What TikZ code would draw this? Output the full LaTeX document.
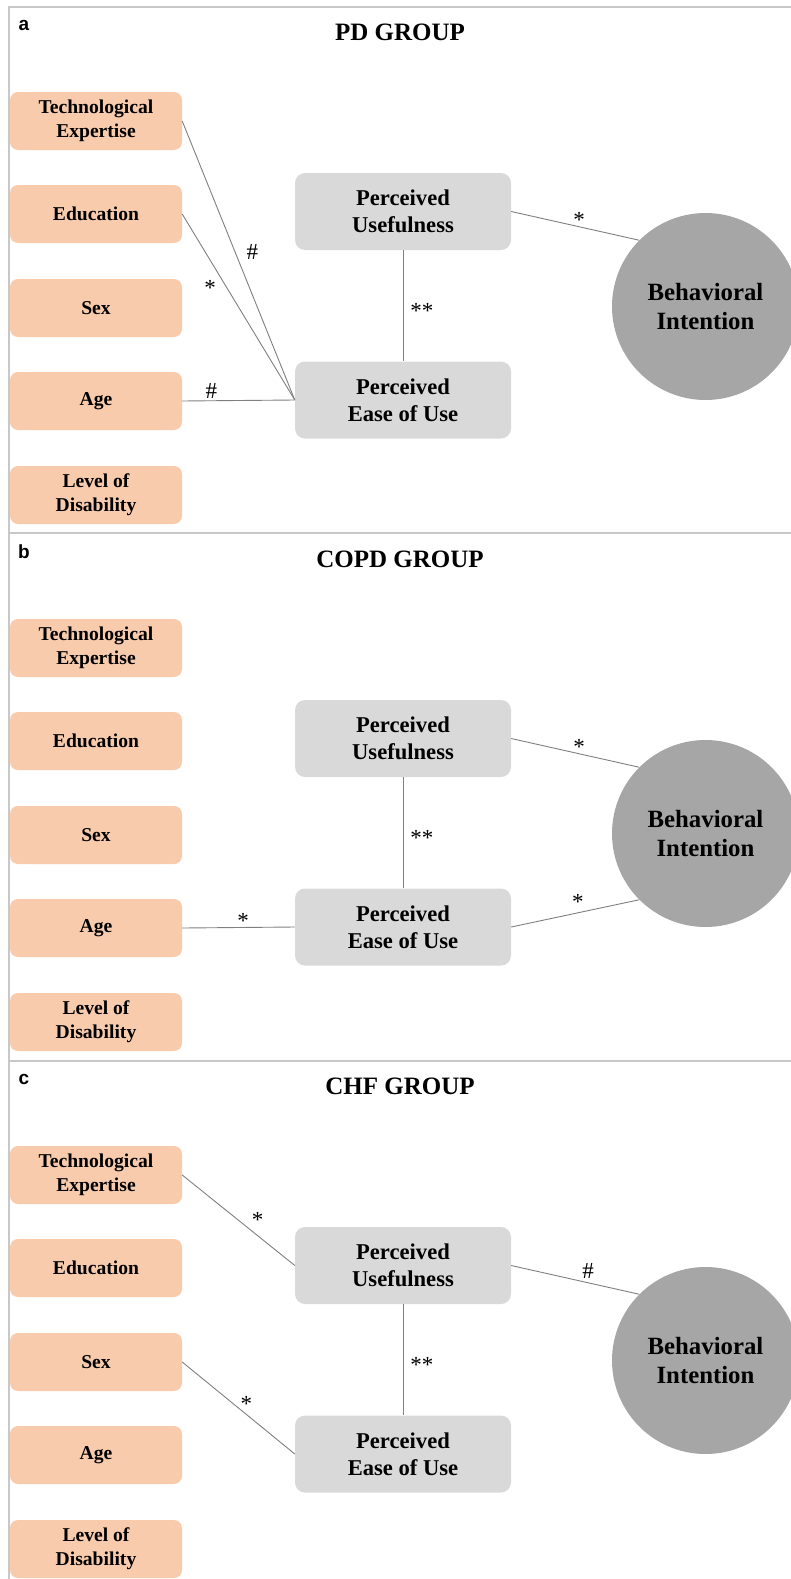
\documentclass[tikz,border=0pt]{standalone}
\usepackage{fontspec}
\setmainfont{Liberation Serif}
\setsansfont{Liberation Sans}
\usepackage{xcolor}
\usepackage{tikz}
\usetikzlibrary{positioning, shapes.geometric, calc}

\definecolor{factorfill}{HTML}{F8CBAD}
\definecolor{tamfill}{HTML}{D9D9D9}
\definecolor{bifill}{HTML}{A6A6A6}
\definecolor{linkgray}{HTML}{7F7F7F}
\definecolor{framegray}{HTML}{C8C8C8}

\begin{document}
\begin{tikzpicture}[
        x=1pt,
        y=-1pt,
        factor/.style={fill=factorfill,rounded corners=8pt,minimum width=172pt,minimum height=58pt,
            align=center,font=\bfseries\fontsize{19.6}{24}\selectfont,inner sep=0pt},
        tam/.style={fill=tamfill,rounded corners=10pt,minimum width=216pt,minimum height=77pt,
            align=center,font=\bfseries\fontsize{22.6}{27}\selectfont,inner sep=0pt},
        intent/.style={circle,fill=bifill,minimum size=187pt,align=center,
            font=\bfseries\fontsize{24.8}{29}\selectfont,inner sep=0pt},
        link/.style={draw=linkgray,line width=0.9pt},
        sig/.style={font=\fontsize{23}{24}\selectfont,inner sep=1pt},
        frame/.style={draw=framegray,line width=2pt}
    ]
        \useasboundingbox (0,0) rectangle (791,1579);
        % panel frames
        \draw[frame] (9,1579) -- (9,7) -- (791,7);
        \draw[frame] (9,533) -- (791,533);
        \draw[frame] (9,1061) -- (791,1061);
        % nodes of the three groups
        \foreach \p/\dy/\ttl in {a/0/PD GROUP, b/527/COPD GROUP, c/1054/CHF GROUP}{
            \node[font=\sffamily\bfseries\fontsize{19}{20}\selectfont] (\p-lbl) at (24,25+\dy) {\p};
            \node[font=\bfseries\fontsize{25}{28}\selectfont] (\p-ttl) at (400,32+\dy) {\ttl};
            \foreach \k/\yy/\txt in {tech/121/Technological\\Expertise, edu/214/Education,
                    sex/308/Sex, age/401/Age, dis/495/Level of\\Disability}{
                \node[factor] (\p-\k) at (96,\yy+\dy) {\txt};
            }
            \node[tam] (\p-pu) at (403,211.5+\dy) {Perceived\\Usefulness};
            \node[tam] (\p-peou) at (403,400+\dy) {Perceived\\Ease of Use};
            \node[intent] (\p-bi) at (705.5,306.5+\dy) {Behavioral\\Intention};
            \draw[link] (\p-pu) -- (\p-peou) node[sig,pos=.55,right=6pt] {**};
        }
        % PD group
        \draw[link] (a-tech.east) -- (a-peou.west) node[sig,pos=.47,right=10pt] {\#};
        \draw[link] (a-edu.east) -- (a-peou.west) node[sig,pos=.4,left=10pt] {*};
        \draw[link] (a-age.east) -- (a-peou.west) node[sig,pos=.26,above=1pt] {\#};
        \draw[link] (a-pu.east) -- (a-bi.135) node[sig,pos=.53,above=-2pt] {*};
        % COPD group
        \draw[link] (b-age.east) -- (b-peou.west) node[sig,pos=.54,above=-2pt] {*};
        \draw[link] (b-pu.east) -- (b-bi.135) node[sig,pos=.53,above=-2pt] {*};
        \draw[link] (b-peou.east) -- (b-bi.225) node[sig,pos=.52,above=2pt] {*};
        % CHF group
        \draw[link] (c-tech.east) -- (c-pu.west) node[sig,pos=.6,above right=1pt] {*};
        \draw[link] (c-sex.east) -- (c-peou.west) node[sig,pos=.57,above=2pt] {*};
        \draw[link] (c-pu.east) -- (c-bi.135) node[sig,pos=.6,above=3pt] {\#};
    \end{tikzpicture}
\end{document}
